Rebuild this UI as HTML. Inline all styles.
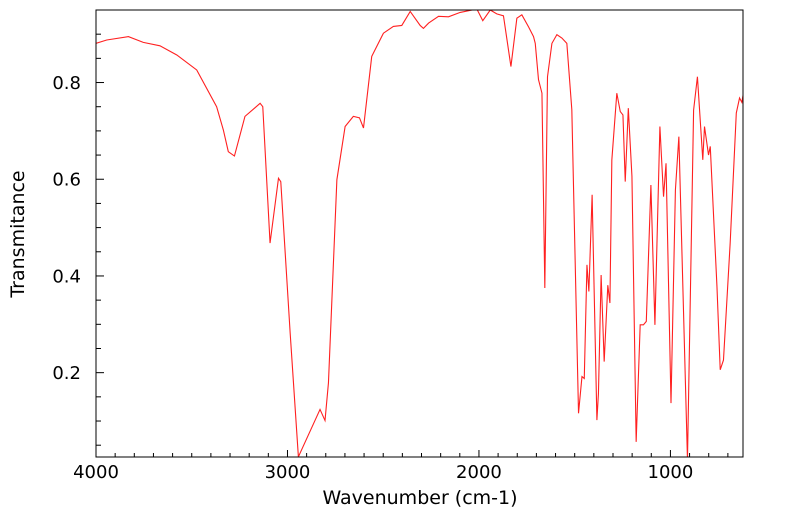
<!DOCTYPE html>
<html><head><meta charset="utf-8"><style>
html,body{margin:0;padding:0;background:#fff;}
svg{display:block;font-family:"DejaVu Sans","Liberation Sans",sans-serif;}
</style></head><body>
<svg id="chart" width="799" height="516" viewBox="0 0 799 516" xmlns="http://www.w3.org/2000/svg">
<defs><clipPath id="plotclip"><rect x="96" y="10" width="647" height="447"/></clipPath></defs>
<g id="axes"></g>
<path id="series" fill="none" stroke="#ff2020" stroke-width="1.1" clip-path="url(#plotclip)"/>
<rect x="96" y="10" width="647" height="447" fill="none" stroke="#000" stroke-width="1"/>
<text x="420" y="504" font-size="19" text-anchor="middle">Wavenumber (cm-1)</text>
<text x="24" y="234" font-size="19" text-anchor="middle" transform="rotate(-90 24 234)">Transmitance</text>
</svg>
<script>
const wavenumbers = [4000,3944,3831,3753,3666,3578,3474,3370,3335,3309,3277,3222,3143,3129,3091,3047,3035,2986,2943,2830,2804,2786,2742,2699,2656,2624,2603,2560,2499,2447,2403,2359,2307,2290,2263,2211,2159,2098,2011,1980,1941,1907,1872,1833,1802,1776,1741,1715,1706,1689,1671,1656,1642,1619,1593,1567,1541,1515,1480,1462,1450,1436,1426,1409,1384,1376,1362,1346,1327,1316,1306,1280,1262,1248,1236,1220,1201,1179,1158,1141,1126,1102,1081,1055,1036,1023,997,974,956,911,879,859,831,822,801,792,757,740,723,688,656,639,627,619];
const transmittance = [0.881,0.888,0.895,0.883,0.876,0.857,0.826,0.750,0.702,0.657,0.648,0.730,0.757,0.750,0.468,0.602,0.595,0.282,0.026,0.124,0.101,0.179,0.599,0.709,0.730,0.727,0.706,0.854,0.902,0.916,0.918,0.947,0.918,0.912,0.923,0.937,0.936,0.945,0.952,0.928,0.950,0.942,0.938,0.833,0.933,0.940,0.915,0.895,0.881,0.806,0.778,0.375,0.812,0.881,0.899,0.892,0.881,0.744,0.116,0.192,0.188,0.423,0.368,0.568,0.102,0.157,0.402,0.223,0.381,0.344,0.640,0.778,0.740,0.733,0.595,0.747,0.606,0.057,0.299,0.299,0.306,0.588,0.299,0.709,0.564,0.633,0.137,0.578,0.688,0.020,0.743,0.812,0.640,0.709,0.650,0.668,0.378,0.206,0.226,0.468,0.737,0.768,0.759,0.778];
const xTickLabels = [4000,3000,2000,1000];
const yTickLabels = [0.2,0.4,0.6,0.8];

const X0=96, X1=743, Y0=10, Y1=457;
const W_LEFT=4000, W_RIGHT=621, T_BOT=0.0256, T_TOP=0.950;
function xs(w){return X0+(W_LEFT-w)/(W_LEFT-W_RIGHT)*(X1-X0);}
function ys(t){return Y1-(t-T_BOT)/(T_TOP-T_BOT)*(Y1-Y0);}

const NS="http://www.w3.org/2000/svg";
const axes=document.getElementById('axes');
function mk(tag,attrs){const e=document.createElementNS(NS,tag);for(const k in attrs)e.setAttribute(k,attrs[k]);axes.appendChild(e);return e;}

for(let w=4000; w>=W_RIGHT; w-=100){
  const major = w%1000===0;
  const t=mk('line',{x1:xs(w),x2:xs(w),y1:Y1,y2:Y1-(major?7:4),stroke:'#000','stroke-width':1});
  
  
}
xTickLabels.forEach(v=>{
  const t=mk('text',{x:xs(v),y:478,'font-size':18,'text-anchor':'middle'});
  t.textContent=v;
  
  
});
for(let i=1;i<=18;i++){
  const v=i*0.05; if(v<T_BOT||v>T_TOP) continue;
  const major = i%4===0;
  const t=mk('line',{x1:X0,x2:X0+(major?8:5),y1:ys(v),y2:ys(v),stroke:'#000','stroke-width':1});
  
  
}
yTickLabels.forEach(v=>{
  const t=mk('text',{x:81,y:ys(v)+6.5,'font-size':18,'text-anchor':'end'});
  t.textContent=v.toFixed(1);
  
  
});

let d='';
wavenumbers.forEach((w,i)=>{d+=(i?'L':'M')+xs(w).toFixed(2)+','+ys(transmittance[i]).toFixed(2);});
document.getElementById('series').setAttribute('d',d);
</script>
</body></html>
